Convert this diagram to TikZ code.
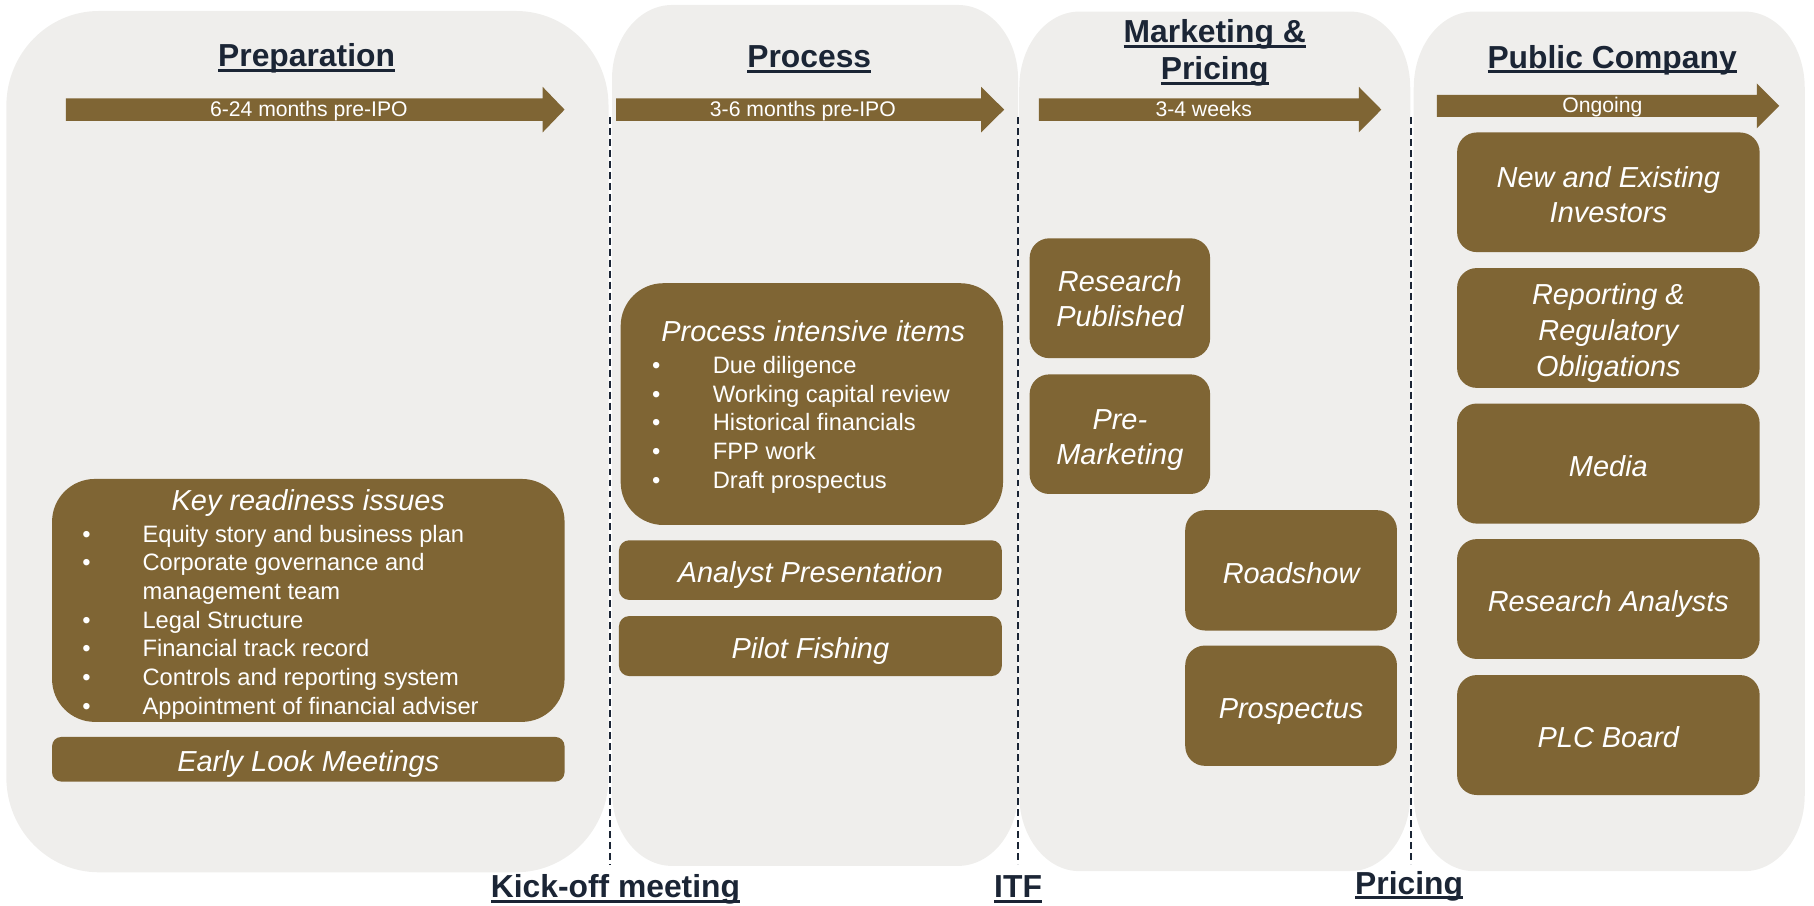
\documentclass[tikz,border=0pt]{standalone}
\usepackage{fontspec}
\setmainfont{Liberation Sans}

\definecolor{panelgray}{HTML}{EFEEEC}
\definecolor{gold}{HTML}{7F6534}
\definecolor{navy}{HTML}{1B2535}

% underline that sits just below the baseline (descenders cross it)
\newsavebox\ulbox
\newcommand\titleul[1]{\sbox\ulbox{#1}\rlap{\rule[-4.3pt]{\wd\ulbox}{2.6pt}}\usebox\ulbox}
% invisible strut that lowers the first line of a label slightly
\newcommand\labelstrut{\rule{0pt}{22pt}}

% phase panel with elliptical corners: x1 y1 x2 y2 rx ry
\newcommand\phasepanel[6]{%
  \fill[panelgray] (#1+#5,#2) -- (#3-#5,#2)
    .. controls ({#3-0.4477*#5},#2) and (#3,{#2+0.4477*#6}) .. (#3,#2+#6)
    -- (#3,#4-#6)
    .. controls (#3,{#4-0.4477*#6}) and ({#3-0.4477*#5},#4) .. (#3-#5,#4)
    -- (#1+#5,#4)
    .. controls ({#1+0.4477*#5},#4) and (#1,{#4-0.4477*#6}) .. (#1,#4-#6)
    -- (#1,#2+#6)
    .. controls (#1,{#2+0.4477*#6}) and ({#1+0.4477*#5},#2) .. cycle;}

% timeline arrow: name, x start, head base x, tip x, shaft top, shaft bottom, label x, label
\newcommand\timearrow[8]{%
  \fill[gold] (#2,#5) -- (#3,#5) -- (#3,#5-10) -- (#4,{(#5+#6)/2})
    -- (#3,#6+10) -- (#3,#6) -- (#2,#6) -- cycle;
  \node[arrowtext, anchor=base] (#1) at (#7,#6-3.4) {#8};}

\begin{document}
\begin{tikzpicture}[x=1pt,y=-1pt,
  phasetitle/.style={text=navy, inner sep=0pt, font=\bfseries\fontsize{27.5}{32}\selectfont},
  arrowtext/.style={text=white, inner sep=0pt, font=\fontsize{18.3}{20}\selectfont},
  goldbox/.style={fill=gold, text=white, inner sep=0pt, align=center, text depth=0pt,
    font=\itshape\fontsize{25}{30}\selectfont, execute at begin node={\labelstrut}},
  boxtitle/.style={text=white, inner sep=0pt, font=\itshape\fontsize{25}{30}\selectfont},
  bullets/.style={text=white, inner sep=0pt, font=\fontsize{20.5}{24.8}\selectfont},
  divider/.style={draw=navy, line width=1.6pt, dash pattern=on 6pt off 3.5pt},
]
\useasboundingbox (0,0) rectangle (1568,783);

% phase panels
\phasepanel{5.5}{9.5}{526}{754}{80}{82}
\phasepanel{529}{4.3}{880}{748.5}{52}{64}
\phasepanel{881}{10}{1219}{753}{52}{66}
\phasepanel{1222}{10}{1560}{753}{52}{66}

% milestone dividers
\coordinate (kickTop) at (527,101);
\coordinate (kickBot) at (527,748);
\coordinate (itfTop) at (880,101);
\coordinate (itfBot) at (880,747);
\coordinate (priceTop) at (1220,101);
\coordinate (priceBot) at (1220,747);
\draw[divider] (kickTop) -- (kickBot);
\draw[divider] (itfTop) -- (itfBot);
\draw[divider] (priceTop) -- (priceBot);

% phase titles
\node[phasetitle, anchor=base] (prepTitle) at (265,57.6) {\titleul{Preparation}};
\node[phasetitle, anchor=base] (procTitle) at (699.5,58.5) {\titleul{Process}};
\node[phasetitle, anchor=base] (mktTitleA) at (1050,37) {\titleul{Marketing \&}};
\node[phasetitle, anchor=base] (mktTitleB) at (1050,69) {\titleul{Pricing}};
\node[phasetitle, anchor=base] (pubTitle) at (1393.5,59) {\titleul{Public Company}};

% timeline arrows
\timearrow{prepArrow}{57}{469}{488}{85}{104.5}{267}{6-24 months pre-IPO}
\timearrow{procArrow}{532.5}{848}{868}{85}{104.5}{694}{3-6 months pre-IPO}
\timearrow{mktArrow}{898}{1174.5}{1194}{85}{104.5}{1040.5}{3-4 weeks}
\timearrow{pubArrow}{1242}{1518.5}{1538}{82}{101}{1385}{Ongoing}

% Preparation
\node[goldbox, rounded corners=37pt, minimum width=443pt, minimum height=210pt] (kri) at (266.5,519) {};
\node[boxtitle, anchor=base] (kriTitle) at (266.5,441.5) {Key readiness issues};
\node[bullets, anchor=base west] (kriList) at (71,468.5) {%
  \begin{tabular}[t]{@{}p{52pt}@{}l@{}}
  \textbullet & Equity story and business plan\\
  \textbullet & Corporate governance and\\
              & management team\\
  \textbullet & Legal Structure\\
  \textbullet & Financial track record\\
  \textbullet & Controls and reporting system\\
  \textbullet & Appointment of financial adviser
  \end{tabular}};
\node[goldbox, rounded corners=8pt, minimum width=443pt, minimum height=38.6pt] (early) at (266.5,656.3) {Early Look Meetings};

% Process
\node[goldbox, rounded corners=37pt, minimum width=330.5pt, minimum height=209pt] (pii) at (701.75,349.3) {};
\node[boxtitle, anchor=base] (piiTitle) at (703,295.5) {Process intensive items};
\node[bullets, anchor=base west] (piiList) at (563.4,322.8) {%
  \begin{tabular}[t]{@{}p{52.6pt}@{}l@{}}
  \textbullet & Due diligence\\
  \textbullet & Working capital review\\
  \textbullet & Historical financials\\
  \textbullet & FPP work\\
  \textbullet & Draft prospectus
  \end{tabular}};
\node[goldbox, rounded corners=9pt, minimum width=331pt, minimum height=51.6pt] (analyst) at (700.5,492.8) {Analyst Presentation};
\node[goldbox, rounded corners=9pt, minimum width=331pt, minimum height=51.9pt] (pilot) at (700.5,558.45) {Pilot Fishing};

% Marketing & Pricing
\node[goldbox, rounded corners=17pt, minimum width=156pt, minimum height=103.6pt] (research) at (968,257.8) {Research\\Published};
\node[goldbox, rounded corners=17pt, minimum width=156pt, minimum height=103.4pt] (premkt) at (968,375.3) {\labelstrut Pre-\\Marketing};
\node[goldbox, rounded corners=17pt, minimum width=183pt, minimum height=104pt] (roadshow) at (1116,493) {Roadshow};
\node[goldbox, rounded corners=17pt, minimum width=183pt, minimum height=104pt] (prospectus) at (1116,610) {Prospectus};

% Public Company
\node[goldbox, rounded corners=17pt, minimum width=261.5pt, minimum height=103.4pt] (investors) at (1390.25,166.2) {\labelstrut New and Existing\\Investors};
\node[goldbox, rounded corners=17pt, minimum width=261.5pt, minimum height=103.6pt,
  font=\itshape\fontsize{25}{31}\selectfont] (reporting) at (1390.25,283.5) {\labelstrut Reporting \&\\Regulatory\\Obligations};
\node[goldbox, rounded corners=17pt, minimum width=261.5pt, minimum height=103.8pt] (media) at (1390.25,400.7) {Media};
\node[goldbox, rounded corners=17pt, minimum width=261.5pt, minimum height=103.6pt] (analysts) at (1390.25,517.8) {Research Analysts};
\node[goldbox, rounded corners=17pt, minimum width=261.5pt, minimum height=103.7pt] (board) at (1390.25,635.35) {PLC Board};

% milestones
\node[phasetitle, anchor=base] (kickoff) at (532,776) {\titleul{Kick-off meeting}};
\node[phasetitle, anchor=base] (itf) at (880,776) {\titleul{ITF}};
\node[phasetitle, anchor=base] (pricing) at (1218,773) {\titleul{Pricing}};
\end{tikzpicture}
\end{document}
